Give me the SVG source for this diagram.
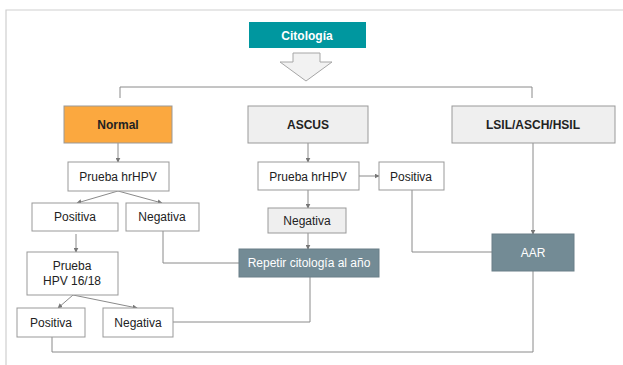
<svg xmlns="http://www.w3.org/2000/svg" width="623" height="365" viewBox="0 0 623 365">
  <defs>
    <marker id="ah" viewBox="0 0 8 8" refX="7" refY="4" markerWidth="5" markerHeight="5" orient="auto" markerUnits="userSpaceOnUse">
      <path d="M0,0 L8,4 L0,8 z" fill="#777"/>
    </marker>
    <style>
      .box { stroke: #999; stroke-width: 1; }
      .white { fill: #ffffff; }
      .grey { fill: #efefef; }
      .slate { fill: #738b95; stroke: #6a7f88; }
      .teal { fill: #00979f; stroke: none; }
      .orange { fill: #fba83f; }
      .t { font-family: "Liberation Sans", Arial, sans-serif; font-size: 12px; fill: #222; text-anchor: middle; }
      .b { font-weight: bold; }
      .w { fill: #ffffff; }
      .ln { fill: none; stroke: #8a8a8a; stroke-width: 1; }
      .arr { marker-end: url(#ah); }
    </style>
  </defs>
  <rect width="623" height="365" fill="#ffffff"/>

  <!-- frame -->
  <path d="M6,365 V10 H623" fill="none" stroke="#cfcfcf" stroke-width="1.2"/>

  <!-- connectors -->
  <g id="connectors">
    <path class="ln" d="M120,98 V87 H532 V98"/>
    <path class="ln arr" d="M118,143 V162"/>
    <path class="ln arr" d="M118,191 L77,203"/>
    <path class="ln arr" d="M118,191 L162,203"/>
    <path class="ln arr" d="M76,234 V252"/>
    <path class="ln arr" d="M73,295 L58,308"/>
    <path class="ln arr" d="M73,295 L137,308"/>
    <path class="ln" d="M163,231 V263 H239"/>
    <path class="ln" d="M173,322 H310 V277"/>
    <path class="ln" d="M52,337 V352 H533 V271"/>
    <path class="ln arr" d="M308,143 V162"/>
    <path class="ln arr" d="M359,176 H379"/>
    <path class="ln arr" d="M308,190 V208"/>
    <path class="ln arr" d="M308,233 V249"/>
    <path class="ln" d="M412,190 V252 H492"/>
    <path class="ln arr" d="M533,143 V234"/>
  </g>

  <g id="citologia">
    <rect class="teal" x="249" y="22" width="117" height="26"/>
    <text class="t b w" x="307" y="40">Citología</text>
  </g>

  <g id="flecha">
    <path d="M293,53 H320 V62 H332 L306,81 L280,62 H293 Z" fill="#f2f2f2" stroke="#a6a6a6" stroke-width="1"/>
  </g>

  <g id="normal">
    <rect class="box orange" x="64" y="106" width="108" height="37"/>
    <text class="t b" x="118" y="129">Normal</text>
  </g>
  <g id="ascus">
    <rect class="box grey" x="248" y="106" width="120" height="37"/>
    <text class="t b" x="308" y="129">ASCUS</text>
  </g>
  <g id="lsil">
    <rect class="box grey" x="452" y="106" width="163" height="37"/>
    <text class="t b" x="533" y="129">LSIL/ASCH/HSIL</text>
  </g>

  <g id="prueba-normal">
    <rect class="box white" x="68" y="162" width="101" height="29"/>
    <text class="t" x="118" y="181">Prueba hrHPV</text>
  </g>
  <g id="positiva-normal">
    <rect class="box white" x="32" y="203" width="86" height="28"/>
    <text class="t" x="75" y="221">Positiva</text>
  </g>
  <g id="negativa-normal">
    <rect class="box white" x="126" y="203" width="73" height="28"/>
    <text class="t" x="162" y="221">Negativa</text>
  </g>
  <g id="prueba-1618">
    <rect class="box white" x="27" y="252" width="91" height="43"/>
    <text class="t" x="72" y="270">Prueba</text>
    <text class="t" x="72" y="285">HPV 16/18</text>
  </g>
  <g id="positiva-1618">
    <rect class="box white" x="17" y="308" width="68" height="29"/>
    <text class="t" x="51" y="327">Positiva</text>
  </g>
  <g id="negativa-1618">
    <rect class="box white" x="103" y="308" width="70" height="29"/>
    <text class="t" x="138" y="327">Negativa</text>
  </g>

  <g id="prueba-ascus">
    <rect class="box white" x="258" y="162" width="101" height="28"/>
    <text class="t" x="308" y="181">Prueba hrHPV</text>
  </g>
  <g id="positiva-ascus">
    <rect class="box white" x="379" y="162" width="65" height="28"/>
    <text class="t" x="411" y="181">Positiva</text>
  </g>
  <g id="negativa-ascus">
    <rect class="box grey" x="268" y="208" width="78" height="25"/>
    <text class="t" x="307" y="225">Negativa</text>
  </g>

  <g id="repetir">
    <rect class="box slate" x="239" y="249" width="140" height="28"/>
    <text class="t w" x="309" y="267">Repetir citología al año</text>
  </g>
  <g id="aar">
    <rect class="box slate" x="492" y="234" width="82" height="37"/>
    <text class="t w" x="533" y="257">AAR</text>
  </g>
</svg>
